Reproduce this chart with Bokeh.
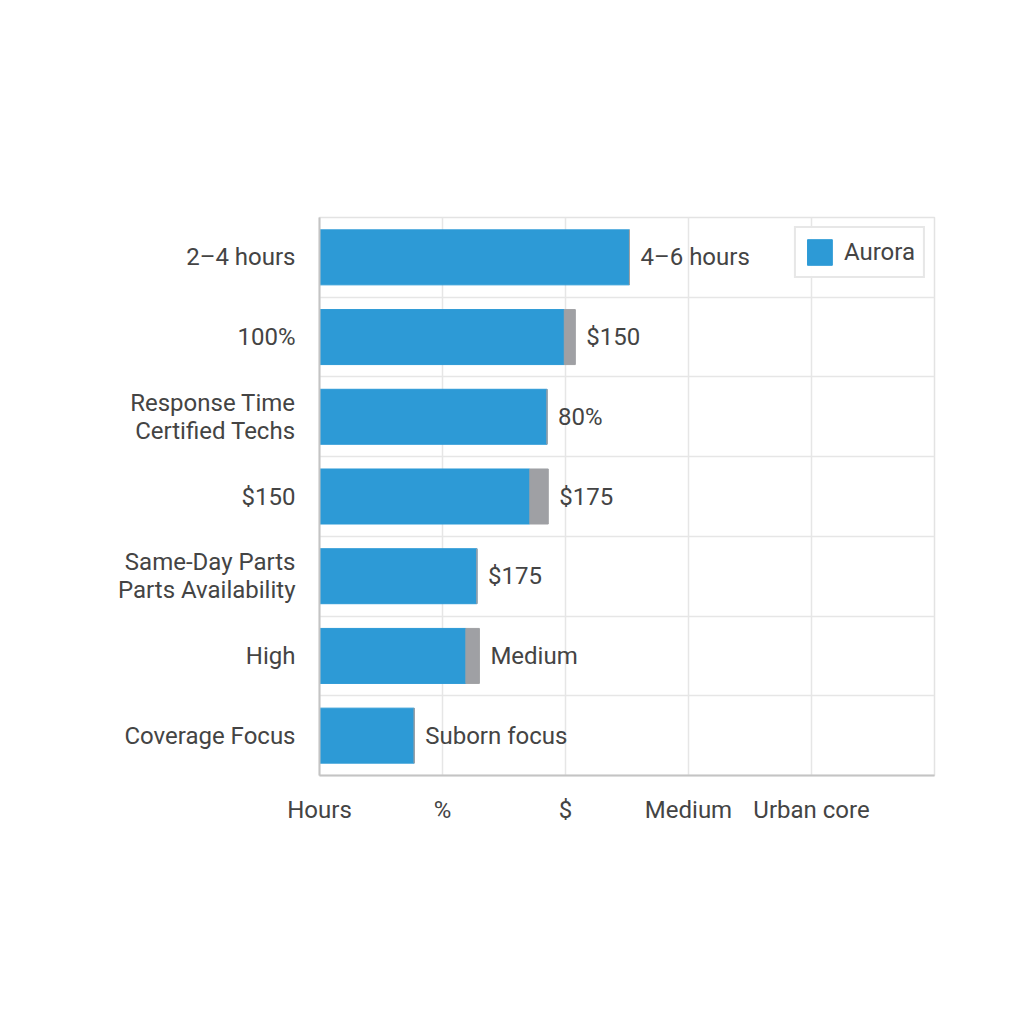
from bokeh.plotting import figure
from bokeh.models import ColumnDataSource, FixedTicker, Range1d, Legend, LegendItem
from bokeh.core.properties import value
from bokeh.embed import file_html
from bokeh.resources import INLINE

# ---- data (top to bottom) ----
categories = ["2–4 hours", "100%", "Response Time\nCertified Techs", "$150",
              "Same-Day Parts\nParts Availability", "High", "Coverage Focus"]
aurora = [2.52, 1.99, 1.85, 1.71, 1.28, 1.19, 0.77]
extra = [0.0, 0.09, 0.0, 0.15, 0.0, 0.11, 0.0]
bar_labels = ["4–6 hours", "$150", "80%", "$175", "$175", "Medium", "Suborn focus"]
x_ticks = [0, 1, 2, 3, 4]
x_tick_labels = ["Hours", "%", "$", "Medium", "Urban core"]

n = len(categories)
ypos = [n - i - 0.5 for i in range(n)]
ends = [a + e for a, e in zip(aurora, extra)]

src = ColumnDataSource(dict(y=ypos, a=aurora, e=ends, lab=bar_labels))

FONT = "Roboto"
TXT = "#444444"
BLUE = "#2D9AD6"
GREY = "#9FA0A4"
FS = "24px"

p = figure(width=1000, height=1000, output_backend="svg", toolbar_location=None,
           x_range=Range1d(0, 5), y_range=Range1d(0, n),
           min_border_left=319, min_border_right=66, min_border_top=217,
           min_border_bottom=225)
p.background_fill_color = "white"
p.border_fill_color = "white"
p.outline_line_color = "#e3e3e3"
p.outline_line_width = 1.5

r_blue = p.hbar(y="y", left=0, right="a", height=0.69, color=BLUE, source=src)
p.hbar(y="y", left="a", right="e", height=0.69, color=GREY, source=src)

p.text(x="e", y="y", text="lab", source=src, x_offset=11,
       text_baseline="middle", text_align="left",
       text_font=value(FONT), text_font_size=FS, text_color=TXT)

# axes
p.xaxis.ticker = FixedTicker(ticks=x_ticks)
p.xaxis.major_label_overrides = {t: l for t, l in zip(x_ticks, x_tick_labels)}
p.yaxis.ticker = FixedTicker(ticks=ypos)
p.yaxis.major_label_overrides = {y: c for y, c in zip(ypos, categories)}
for ax in (p.xaxis[0], p.yaxis[0]):
    ax.major_tick_line_color = None
    ax.minor_tick_line_color = None
    ax.axis_line_color = "#c4c4c4"
    ax.axis_line_width = 2
    ax.major_label_text_font = FONT
    ax.major_label_text_font_size = FS
    ax.major_label_text_color = TXT
    ax.major_label_text_line_height = 1.0
p.xaxis.major_label_standoff = 14
p.yaxis.major_label_standoff = 18

p.xgrid.ticker = FixedTicker(ticks=[1, 2, 3, 4])
p.ygrid.ticker = FixedTicker(ticks=list(range(1, n)))
p.xgrid.grid_line_color = "#e6e6e6"
p.ygrid.grid_line_color = "#e6e6e6"
p.xgrid.grid_line_width = 1.5
p.ygrid.grid_line_width = 1.5

legend = Legend(items=[LegendItem(label="Aurora", renderers=[r_blue])],
                location="top_right")
legend.label_text_font = FONT
legend.label_text_font_size = FS
legend.label_text_color = TXT
legend.glyph_width = 31
legend.glyph_height = 32
legend.border_line_color = "#cfcfcf"
legend.border_line_width = 2
legend.margin = 9
legend.padding = 8
legend.label_standoff = 9
p.add_layout(legend)

open("out.html", "w").write(file_html(p, INLINE))
